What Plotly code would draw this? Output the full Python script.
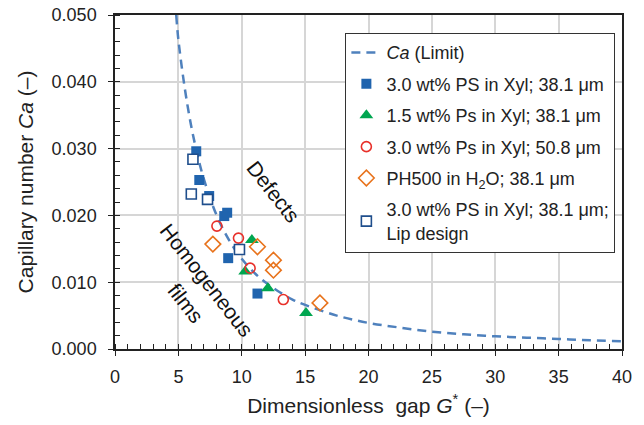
import plotly.graph_objects as go

# Limit curve
limit_g = [4.83, 5.0, 5.5, 6.0, 6.5, 7.0, 8.0, 9.0, 10.0, 11.0, 12.0, 13.0, 14.0, 15.0,
           17.5, 20.0, 22.5, 25.0, 27.5, 30.0, 32.5, 35.0, 37.5, 40.0]
limit_ca = [0.0500, 0.0463, 0.0391, 0.0335, 0.0291, 0.0255, 0.0201, 0.0163, 0.0135, 0.0114,
            0.0098, 0.0085, 0.0074, 0.0066, 0.0050, 0.0039, 0.0032, 0.0026, 0.0022, 0.0019,
            0.0017, 0.0015, 0.0013, 0.00115]

ps30_g = [6.41, 6.65, 7.43, 8.62, 8.85, 8.93, 11.24]
ps30_ca = [0.0296, 0.0253, 0.0229, 0.0199, 0.0204, 0.0136, 0.0083]

ps15_g = [10.80, 10.27, 12.06, 15.07]
ps15_ca = [0.0163, 0.0116, 0.0091, 0.0054]

ps30b_g = [8.04, 9.74, 10.66, 13.28]
ps30b_ca = [0.0184, 0.0166, 0.0121, 0.0074]

ph_g = [7.72, 11.24, 12.50, 12.50, 16.17]
ph_ca = [0.0157, 0.0153, 0.0133, 0.0118, 0.0069]

lip_g = [6.15, 6.02, 7.30, 9.82]
lip_ca = [0.0284, 0.0232, 0.0224, 0.0149]

x_ticks = [0, 5, 10, 15, 20, 25, 30, 35, 40]
y_ticks = [0.000, 0.010, 0.020, 0.030, 0.040, 0.050]

FONT = "Liberation Sans, Arial, sans-serif"

fig = go.Figure()
fig.add_trace(go.Scatter(x=limit_g, y=limit_ca, mode="lines", name="<i>Ca</i> (Limit)",
                         line=dict(color="#4F81BD", width=2.5, dash="9px,6px", shape="spline"),
                         legendgroup="a"))
fig.add_trace(go.Scatter(x=ps30_g, y=ps30_ca, mode="markers", name="3.0 wt% PS in Xyl; 38.1 μm",
                         marker=dict(symbol="square", size=10, color="#2064AE",
                                     line=dict(color="#2064AE", width=0)), legendgroup="b"))
fig.add_trace(go.Scatter(x=ps15_g, y=ps15_ca, mode="markers", name="1.5 wt% Ps in Xyl; 38.1 μm",
                         marker=dict(symbol="triangle-up", size=12, color="#00A650",
                                     line=dict(width=0)), legendgroup="c"))
fig.add_trace(go.Scatter(x=ps30b_g, y=ps30b_ca, mode="markers", name="3.0 wt% Ps in Xyl; 50.8 μm",
                         marker=dict(symbol="circle-open", size=10, color="#E8302A",
                                     line=dict(color="#E8302A", width=1.6)), legendgroup="d"))
fig.add_trace(go.Scatter(x=ph_g, y=ph_ca, mode="markers", name="PH500 in H<sub>2</sub>O; 38.1 μm",
                         marker=dict(symbol="diamond-open", size=12, color="#E8731C",
                                     line=dict(color="#E8731C", width=1.6)), legendgroup="e"))
fig.add_trace(go.Scatter(x=lip_g, y=lip_ca, mode="markers",
                         name="3.0 wt% PS in Xyl; 38.1 μm;<br>Lip design",
                         marker=dict(symbol="square", size=10, color="white",
                                     line=dict(color="#1F4E8C", width=1.6)), legendgroup="f"))

ann_style = dict(showarrow=False, font=dict(family=FONT, size=21, color="#111"), textangle=52,
                 xref="x", yref="y")
fig.add_annotation(text="Defects", x=12.5, y=0.0236, **ann_style)
fig.add_annotation(text="Homogeneous", x=7.25, y=0.0102, **ann_style)
fig.add_annotation(text="films", x=5.6, y=0.0068, **ann_style)

axis_common = dict(showline=True, linecolor="#222", linewidth=1.5, mirror=True,
                   showgrid=True, gridcolor="#D6D6D6", gridwidth=1.5, zeroline=False,
                   ticks="outside", ticklen=5, tickcolor="#222", tickwidth=1.3,
                   automargin=False,
                   tickfont=dict(family=FONT, size=18, color="#222"))

fig.update_xaxes(range=[0, 40], tickvals=x_ticks, ticktext=[str(v) for v in x_ticks],
                 ticklabelstandoff=6,
                 minor=dict(dtick=1, ticks="inside", ticklen=5, tickcolor="#222", tickwidth=1,
                            showgrid=False),
                 title=dict(text="Dimensionless\u00a0\u00a0gap <i>G</i><sup>*</sup> (–)",
                            font=dict(family=FONT, size=21, color="#222"), standoff=12),
                 **axis_common)
fig.update_yaxes(range=[0, 0.05], tickvals=y_ticks, ticktext=[f"{v:.3f}" for v in y_ticks],
                 ticklabelstandoff=8,
                 minor=dict(dtick=0.002, ticks="inside", ticklen=5, tickcolor="#222", tickwidth=1,
                            showgrid=False),
                 title=dict(text="Capillary number <i>Ca</i> (–)",
                            font=dict(family=FONT, size=21, color="#222"), standoff=12),
                 **axis_common)

fig.update_layout(
    width=644, height=425,
    margin=dict(l=115, r=22, t=15, b=76),
    paper_bgcolor="white", plot_bgcolor="white",
    showlegend=True,
    legend=dict(x=0.454, y=0.946, xanchor="left", yanchor="top",
                bgcolor="white", bordercolor="#333", borderwidth=1.2,
                font=dict(family=FONT, size=18, color="#222"),
                tracegroupgap=5, itemwidth=30),
)

fig.write_html("out.html")
